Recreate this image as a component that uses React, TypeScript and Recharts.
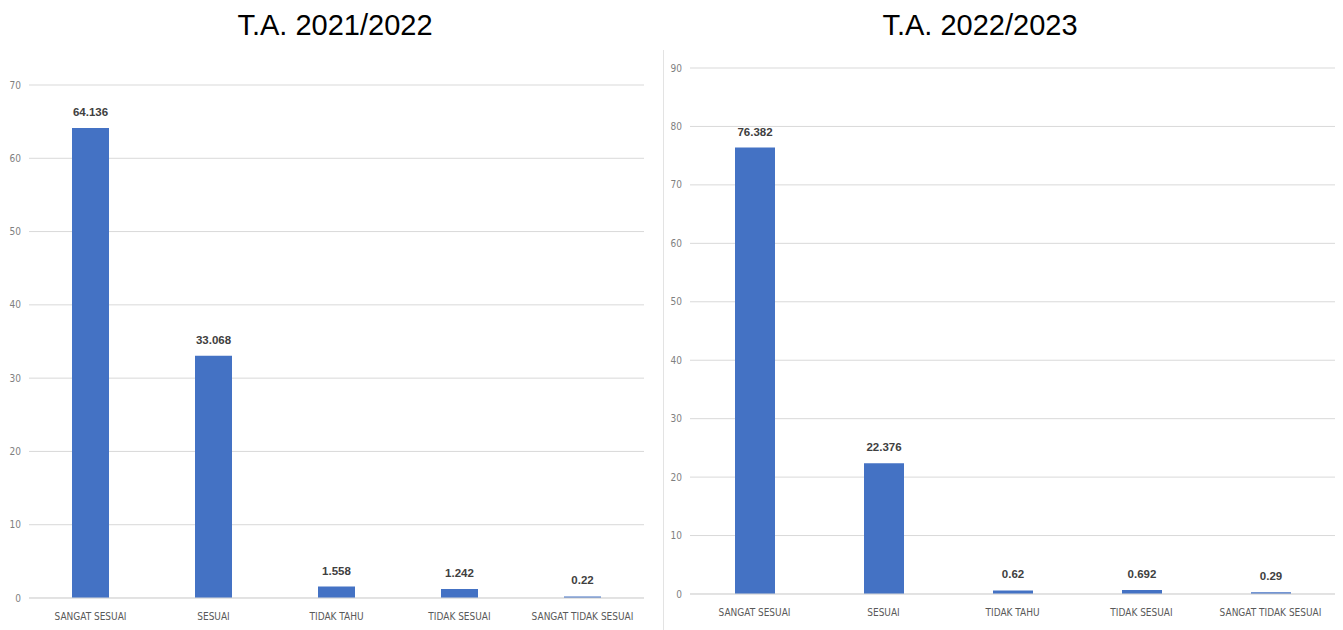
import React from 'react';
import { BarChart, Bar, XAxis, YAxis, CartesianGrid, LabelList } from 'recharts';

const categories = ['SANGAT SESUAI', 'SESUAI', 'TIDAK TAHU', 'TIDAK SESUAI', 'SANGAT TIDAK SESUAI'];
const values2021 = [64.136, 33.068, 1.558, 1.242, 0.22];
const values2022 = [76.382, 22.376, 0.62, 0.692, 0.29];
const labels2021 = ['64.136', '33.068', '1.558', '1.242', '0.22'];
const labels2022 = ['76.382', '22.376', '0.62', '0.692', '0.29'];
const ticks2021 = [0, 10, 20, 30, 40, 50, 60, 70];
const ticks2022 = [0, 10, 20, 30, 40, 50, 60, 70, 80, 90];

const narrow = '"Liberation Sans Narrow", "Arial Narrow", "DejaVu Sans Condensed", sans-serif';
const barColor = '#4472C4';

const toRows = (vals: number[], labels: string[]) =>
  categories.map((name, i) => ({ name, value: vals[i], label: labels[i] }));

interface PanelProps {
  title: string;
  rows: { name: string; value: number; label: string }[];
  ticks: number[];
  left: number;
  width: number;
  top: number;
  right: number;
  xHeight: number;
  yWidth: number;
  barSize: number;
  titleX: number;
}

const Panel: React.FC<PanelProps> = ({ title, rows, ticks, left, width, top, right, xHeight, yWidth, barSize, titleX }) => (
  <>
    <div
      style={{
        position: 'absolute',
        left: titleX - 150,
        width: 300,
        top: 9,
        textAlign: 'center',
        fontFamily: '"Liberation Sans", Arial, sans-serif',
        fontSize: 29,
        color: '#000',
      }}
    >
      {title}
    </div>
    <div style={{ position: 'absolute', left, top: 0 }}>
      <BarChart width={width} height={630} data={rows} margin={{ top, right, bottom: 0, left: 0 }}>
        <CartesianGrid vertical={false} stroke="#d9d9d9" />
        <XAxis
          dataKey="name"
          axisLine={{ stroke: '#d9d9d9' }}
          tickLine={false}
          tickMargin={9}
          height={xHeight}
          interval={0}
          tick={{ fontFamily: narrow, fontSize: 10, fill: '#595959' }}
        />
        <YAxis
          width={yWidth}
          domain={[0, ticks[ticks.length - 1]]}
          ticks={ticks}
          axisLine={false}
          tickLine={false}
          tick={{ fontFamily: narrow, fontSize: 10, fill: '#7f7f7f' }}
        />
        <Bar dataKey="value" fill={barColor} barSize={barSize} isAnimationActive={false}>
          <LabelList
            dataKey="label"
            position="top"
            offset={12}
            style={{ fontFamily: '"Liberation Sans", Arial, sans-serif', fontSize: 11.5, fontWeight: 'bold', fill: '#404040' }}
          />
        </Bar>
      </BarChart>
    </div>
  </>
);

export default function App() {
  return (
    <div style={{ position: 'absolute', left: 0, top: 0, width: 1343, height: 630, background: '#fff', overflow: 'hidden' }}>
      <Panel
        title="T.A. 2021/2022"
        rows={toRows(values2021, labels2021)}
        ticks={ticks2021}
        left={0}
        width={664}
        top={85}
        right={20}
        xHeight={32}
        yWidth={29}
        barSize={37}
        titleX={335}
      />
      <div style={{ position: 'absolute', left: 663, top: 50, width: 1, height: 580, background: '#e3e3e3' }} />
      <Panel
        title="T.A. 2022/2023"
        rows={toRows(values2022, labels2022)}
        ticks={ticks2022}
        left={664}
        width={679}
        top={68}
        right={8}
        xHeight={36}
        yWidth={26}
        barSize={40}
        titleX={980}
      />
    </div>
  );
}
